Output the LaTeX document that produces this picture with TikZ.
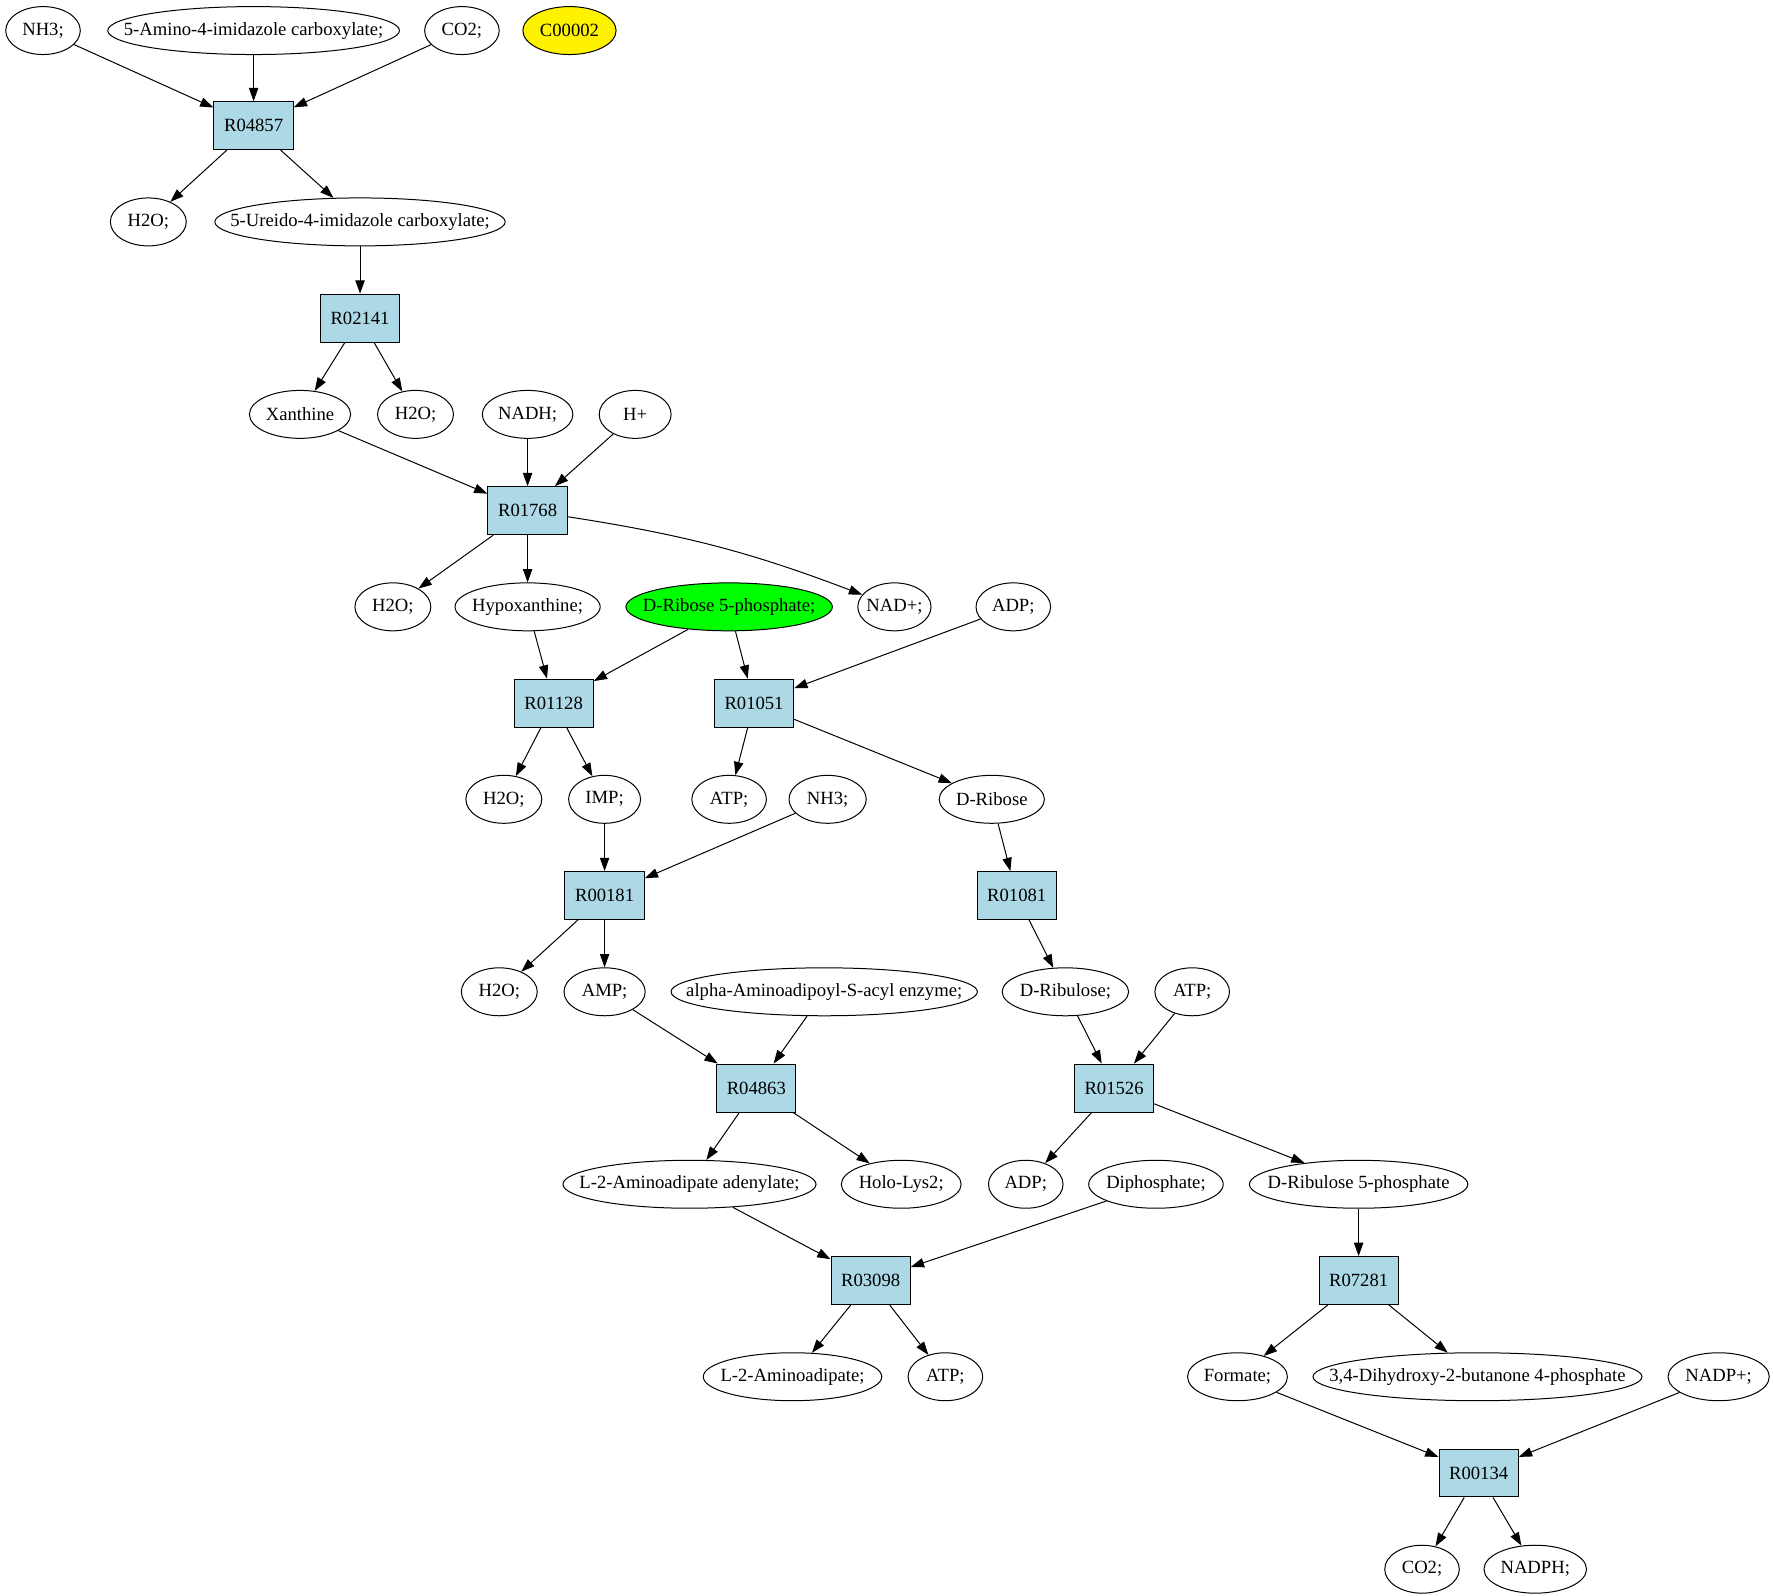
\documentclass[tikz,border=0pt]{standalone}
\usepackage{fontspec}
\setmainfont{Liberation Serif}
\usetikzlibrary{shapes.geometric,arrows.meta}
\definecolor{rxnblue}{RGB}{173,216,230}
\tikzset{
  cpd/.style={draw,ellipse,inner xsep=0pt,minimum height=36pt,minimum width=#1,
    execute at begin node={\hbox to 0pt\bgroup\hss},
    execute at end node={\hss\egroup}},
  cpd/.default=56pt,
  rxn/.style={draw,fill=rxnblue,minimum width=59.5pt,minimum height=36pt},
}
\begin{document}
\begin{tikzpicture}[x=0.85pt,y=-0.85pt,>={Triangle[length=10pt,width=7pt]},
  line width=0.75pt,font=\fontsize{14}{16}\selectfont]
\useasboundingbox (0,0) rectangle (1566,1409);
% reactions
\node[rxn] (R04857) at (224,111) {R04857};
\node[rxn] (R02141) at (318,281) {R02141};
\node[rxn] (R01768) at (466,451) {R01768};
\node[rxn] (R01128) at (489,621) {R01128};
\node[rxn] (R01051) at (666,621) {R01051};
\node[rxn] (R00181) at (534,791) {R00181};
\node[rxn] (R01081) at (898,791) {R01081};
\node[rxn] (R04863) at (668,961) {R04863};
\node[rxn] (R01526) at (984,961) {R01526};
\node[rxn] (R03098) at (769,1131) {R03098};
\node[rxn] (R07281) at (1200,1131) {R07281};
\node[rxn] (R00134) at (1306,1301) {R00134};
% compounds
\node[cpd] (nh3a) at (38,27) {NH3;};
\node[cpd=219pt] (aic) at (224,27) {5-Amino-4-imidazole carboxylate;};
\node[cpd] (co2a) at (408,27) {CO2;};
\node[cpd=70pt,fill=yellow] (c00002) at (503,27) {C00002};
\node[cpd=57pt] (h2oa) at (131,196) {H2O;};
\node[cpd=218pt] (uic) at (318,196) {5-Ureido-4-imidazole carboxylate;};
\node[cpd=76pt] (xan) at (265,366) {Xanthine};
\node[cpd=57pt] (h2ob) at (367,366) {H2O;};
\node[cpd=68pt] (nadh) at (466,366) {NADH;};
\node[cpd=54pt] (hplus) at (561,366) {H+};
\node[cpd=57pt] (h2oc) at (347,536) {H2O;};
\node[cpd=109pt] (hyp) at (466,536) {Hypoxanthine;};
\node[cpd=155pt,fill=green] (r5p) at (644,536) {D-Ribose 5-phosphate;};
\node[cpd=55pt] (nadp) at (790,536) {NAD+;};
\node[cpd] (adpa) at (895,536) {ADP;};
\node[cpd=57pt] (h2od) at (445,706) {H2O;};
\node[cpd=54pt] (imp) at (534,706) {IMP;};
\node[cpd] (atpa) at (644,706) {ATP;};
\node[cpd=58pt] (nh3b) at (731,706) {NH3;};
\node[cpd=79pt] (rib) at (876,706) {D-Ribose};
\node[cpd=57pt] (h2oe) at (441,876) {H2O;};
\node[cpd=61pt] (amp) at (534,876) {AMP;};
\node[cpd=230pt] (aas) at (728,876) {alpha-Aminoadipoyl-S-acyl enzyme;};
\node[cpd=95pt] (rbl) at (941,876) {D-Ribulose;};
\node[cpd] (atpb) at (1053,876) {ATP;};
\node[cpd=190pt] (aad) at (609,1046) {L-2-Aminoadipate adenylate;};
\node[cpd=90pt] (holo) at (796,1046) {Holo-Lys2;};
\node[cpd] (adpb) at (906,1046) {ADP;};
\node[cpd=101pt] (ppi) at (1021,1046) {Diphosphate;};
\node[cpd=164pt] (ru5p) at (1200,1046) {D-Ribulose 5-phosphate};
\node[cpd=134pt] (laa) at (700,1216) {L-2-Aminoadipate;};
\node[cpd] (atpc) at (835,1216) {ATP;};
\node[cpd=75pt] (form) at (1093,1216) {Formate;};
\node[cpd=247pt] (dhbp) at (1305,1216) {3,4-Dihydroxy-2-butanone 4-phosphate};
\node[cpd=76pt] (nadpp) at (1518,1216) {NADP+;};
\node[cpd] (co2b) at (1256,1386) {CO2;};
\node[cpd=77pt] (nadph) at (1356,1386) {NADPH;};
% edges
\foreach \a/\b in {nh3a/R04857,aic/R04857,co2a/R04857,R04857/h2oa,R04857/uic,
  uic/R02141,R02141/xan,R02141/h2ob,xan/R01768,nadh/R01768,hplus/R01768,
  R01768/h2oc,R01768/hyp,hyp/R01128,r5p/R01128,r5p/R01051,adpa/R01051,
  R01128/h2od,R01128/imp,R01051/atpa,R01051/rib,imp/R00181,nh3b/R00181,
  rib/R01081,R00181/h2oe,R00181/amp,R01081/rbl,amp/R04863,aas/R04863,
  rbl/R01526,atpb/R01526,R04863/aad,R04863/holo,R01526/adpb,R01526/ru5p,
  aad/R03098,ppi/R03098,ru5p/R07281,R03098/laa,R03098/atpc,R07281/form,
  R07281/dhbp,form/R00134,nadpp/R00134,R00134/co2b,R00134/nadph}{
  \draw[->] (\a) -- (\b);
}
\draw[->] (R01768) to[bend left=6] (nadp);
\end{tikzpicture}
\end{document}
